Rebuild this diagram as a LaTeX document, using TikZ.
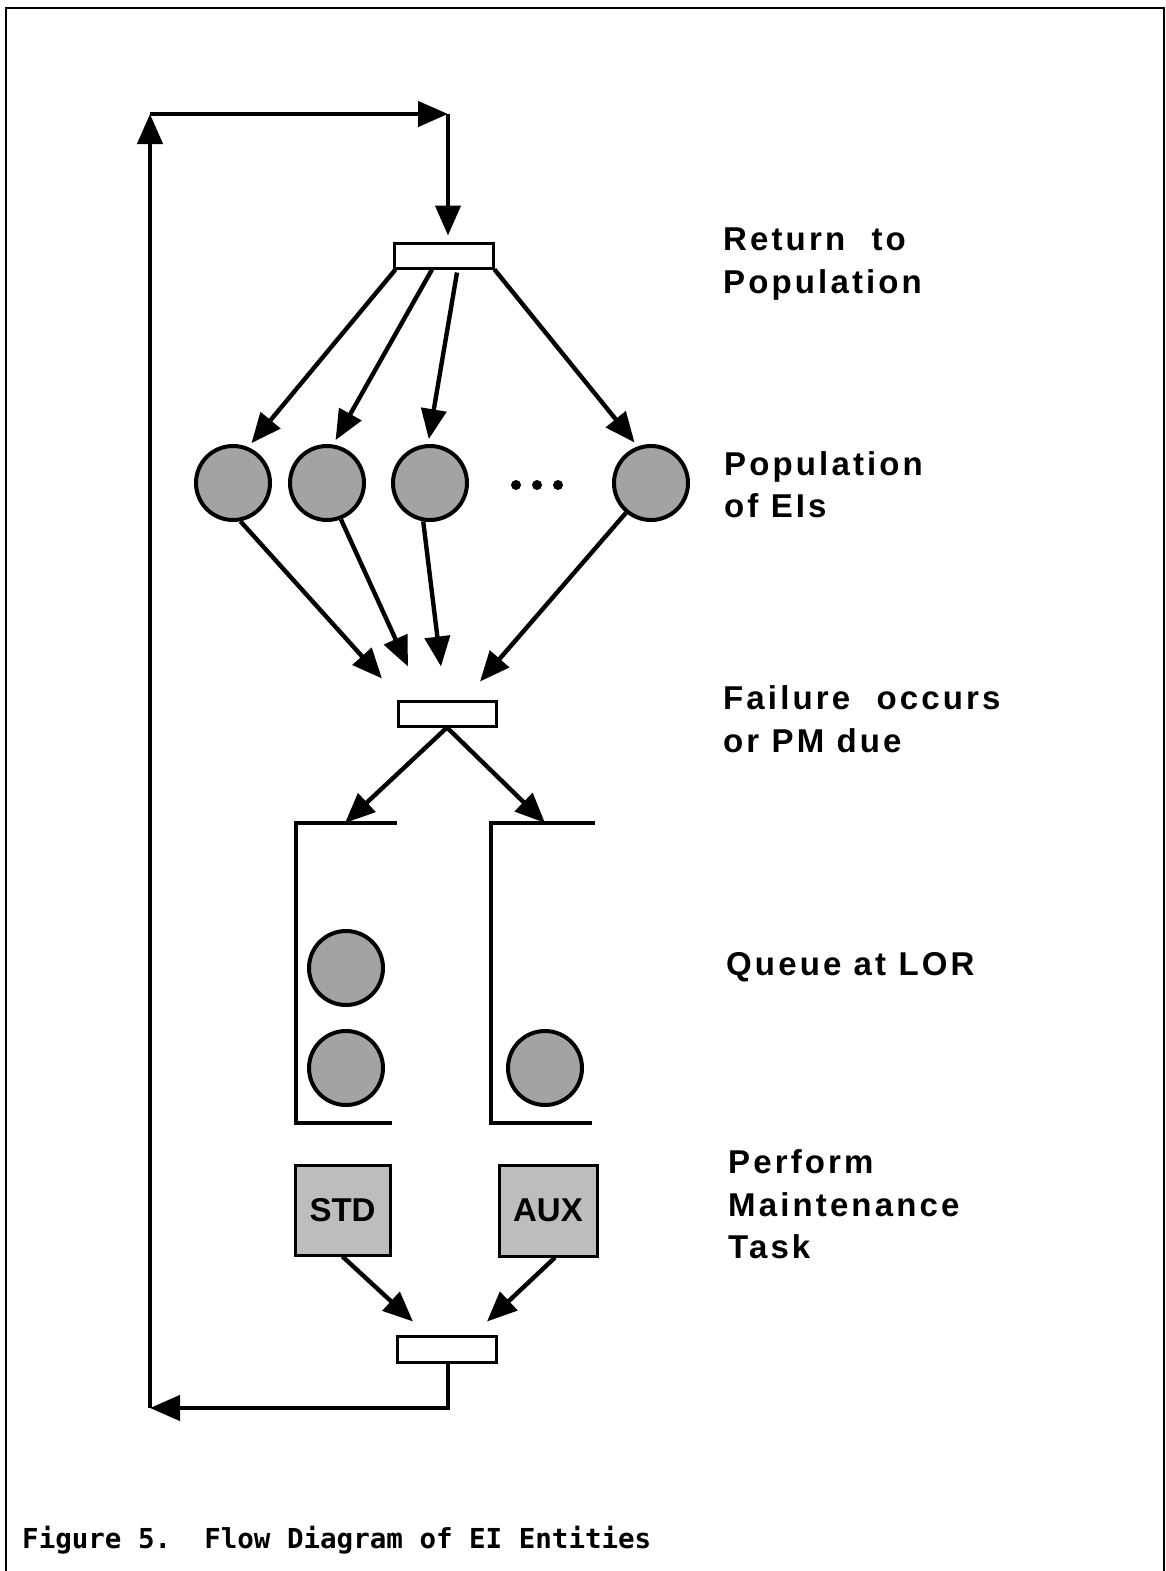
\documentclass[tikz,border=0pt]{standalone}
\usepackage{fontspec}
\usetikzlibrary{arrows.meta,calc}
\newfontfamily\labfont{Liberation Sans}[LetterSpace=9.5]
\newfontfamily\boxfont{Liberation Sans}
\newfontfamily\capfont{DejaVu Sans Mono}
\begin{document}
\begin{tikzpicture}[x=1pt,y=-1pt,
  ln/.style={line width=3.5pt},
  arr/.style={line width=4.4pt,-{Triangle[length=30pt,width=25pt]}},
  bar/.style={draw,line width=3pt,fill=white,minimum width=99pt,minimum height=25pt,inner sep=0pt},
  ei/.style={circle,draw,line width=4pt,fill=black!36,minimum size=74pt,inner sep=0pt},
  task/.style={draw,line width=3pt,fill=black!26,inner sep=0pt,font=\boxfont\bfseries\fontsize{33}{33}\selectfont},
  lab/.style={anchor=base west,inner sep=0pt,font=\labfont\bfseries\fontsize{33}{43}\selectfont}
]
\useasboundingbox (0,0) rectangle (1165,1571);
% frame
\draw[line width=2.5pt] (6,1571) -- (6,8) -- (1164,8) -- (1164,1571);

% bars
\node[bar] (tb) at (443.5,255.5) {};
\node[bar,minimum width=98pt] (mb) at (447,713.5) {};
\node[bar,minimum height=26pt] (bb) at (447,1349) {};

% population circles
\node[ei] (c1) at (233,483) {};
\node[ei] (c2) at (327,483) {};
\node[ei] (c3) at (430,483) {};
\node[ei] (c4) at (651,483) {};
\fill (516,485) circle (5pt) (537,485) circle (5pt) (558,485) circle (5pt);

% queues
\coordinate (q1) at (296,823);
\coordinate (q2) at (491,823);
\draw[ln] (397,823) -- (q1) -- (296,1123) -- (392,1123);
\draw[ln] (595,823) -- (q2) -- (491,1123) -- (592,1123);
\node[ei] (e1) at (346,968) {};
\node[ei] (e2) at (346,1068) {};
\node[ei] (e3) at (545,1068) {};

% tasks
\node[task,minimum width=95pt,minimum height=90pt] (std) at (342.5,1210) {STD};
\node[task,minimum width=98pt,minimum height=91pt] (aux) at (548,1210.5) {AUX};

% loop
\coordinate (tl) at (150,114);
\coordinate (tr) at (448,114);
\coordinate (bl) at (150,1408);
\draw[arr] (bb.south -| tr) |- (bl);
\draw[arr] (bl) -- (tl);
\draw[arr] (tl) -- (tr);
\draw[arr,shorten >=6pt] (tr) -- (tr |- tb.north);

% top bar to population
\draw[arr,shorten >=5pt] ($(tb.south west)+(3,0)$) -- (c1.67);
\draw[arr,shorten >=5pt] ($(tb.south)+(-11.5,0)$) -- (c2.81);
\draw[arr,shorten >=5pt] ($(tb.south)+(13.5,3)$) -- (c3.93);
\draw[arr,shorten >=5pt] (tb.south east) -- (c4.110);

% population to middle bar
\draw[arr] (c1.-79) -- ($(mb.north)+(-65,-21)$);
\draw[arr] (c2.-69) -- ($(mb.north)+(-39,-33)$);
\draw[arr] (c3.-100) -- ($(mb.north)+(-6,-33)$);
\draw[arr] (c4.-130) -- ($(mb.north)+(33,-18)$);

% middle bar to queues
\draw[arr] (mb.south) -- ($(q1)+(49,0)$);
\draw[arr] (mb.south) -- ($(q2)+(54,0)$);

% tasks to bottom bar
\draw[arr] (std.south) -- ($(bb.north)+(-34,-13)$);
\draw[arr] ($(aux.south)+(7,0)$) -- ($(bb.north)+(40,-13)$);

% labels
\node[lab] (l1) at (723,250) {Return\hspace{14pt} to};
\node[lab] (l2) at (723,293) {Population};
\node[lab] (l3) at (724,475) {Population};
\node[lab] (l4) at (724,517) {of EIs};
\node[lab] (l5) at (723,709) {Failure\hspace{14pt} occurs};
\node[lab] (l6) at (723,752) {or PM due};
\node[lab] (l7) at (726,975) {Queue at LOR};
\node[lab] (l8) at (728,1173) {Perform};
\node[lab] (l9) at (728,1216) {Maintenance};
\node[lab] (l10) at (728,1258) {Task};

% caption
\node[anchor=base west,inner sep=0pt,font=\capfont\bfseries\fontsize{27.5}{27.5}\selectfont] (cap) at (22,1548) {Figure 5.\ \ Flow Diagram of EI Entities};
\end{tikzpicture}
\end{document}
